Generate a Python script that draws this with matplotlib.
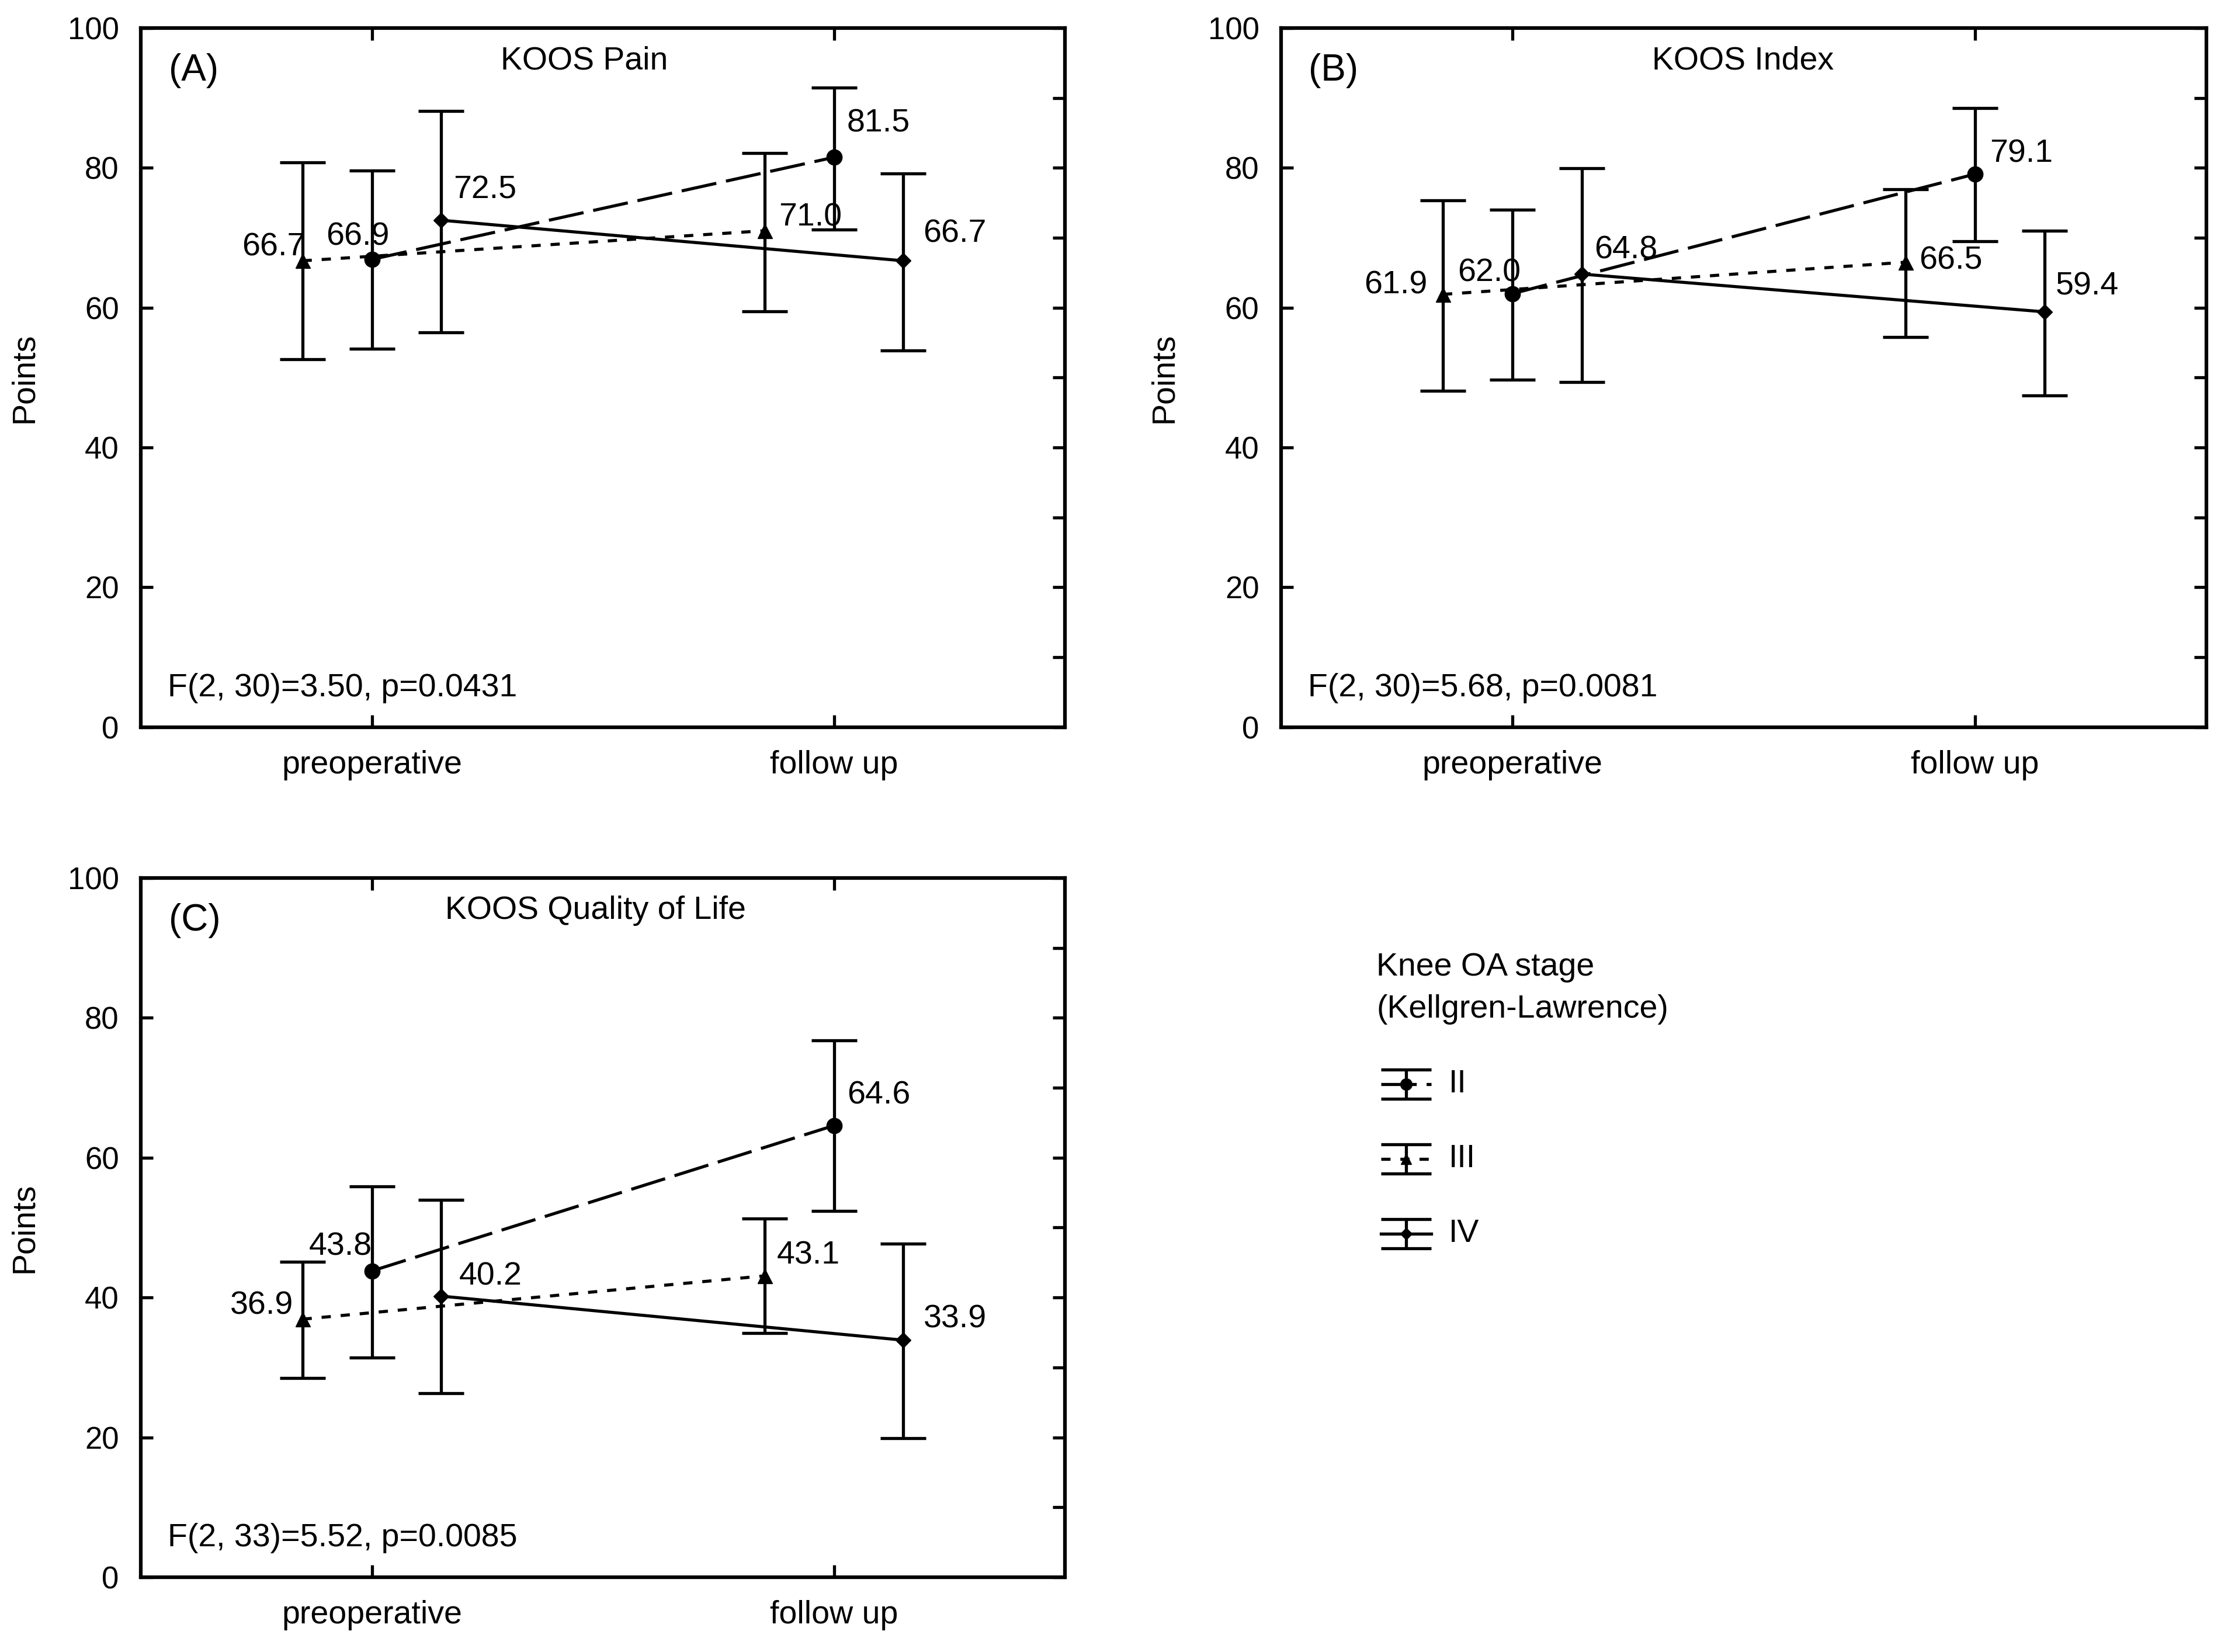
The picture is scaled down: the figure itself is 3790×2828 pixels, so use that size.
import matplotlib.pyplot as plt
from matplotlib.ticker import MultipleLocator

plt.rcParams['font.family'] = ['Liberation Sans', 'DejaVu Sans']

categories = ['preoperative', 'follow up']
stages = ['II', 'III', 'IV']

# means and confidence limits, rows = stage II, III, IV ; cols = preop, follow up
pain_mean = [[66.9, 81.5], [66.7, 71.0], [72.5, 66.7]]
pain_low = [[54.1, 71.2], [52.6, 59.5], [56.5, 53.9]]
pain_high = [[79.6, 91.5], [80.8, 82.1], [88.1, 79.2]]

index_mean = [[62.0, 79.1], [61.9, 66.5], [64.8, 59.4]]
index_low = [[49.7, 69.5], [48.1, 55.8], [49.4, 47.4]]
index_high = [[74.0, 88.5], [75.3, 76.9], [79.9, 71.0]]

qol_mean = [[43.8, 64.6], [36.9, 43.1], [40.2, 33.9]]
qol_low = [[31.4, 52.4], [28.5, 34.9], [26.3, 19.9]]
qol_high = [[55.9, 76.8], [45.1, 51.3], [54.0, 47.7]]

titles = ['KOOS Pain', 'KOOS Index', 'KOOS Quality of Life']
letters = ['(A)', '(B)', '(C)']
stats = ['F(2, 30)=3.50, p=0.0431', 'F(2, 30)=5.68, p=0.0081', 'F(2, 33)=5.52, p=0.0085']

# styling
LW = 3.8
stage_shift = [0.0, -0.15, 0.15]
stage_marker = ['o', '^', 'D']
stage_msize = [19, 18, 13]
stage_dash = [(11.5, 3.2), (3.0, 3.2), None]

# value label placement: (ha, dx in px, dy in data units), order II pre, II fu, III pre, III fu, IV pre, IV fu
label_pos = [
    [('right', 30, 3.2), ('left', 22, 4.8), ('right', 5, 1.9), ('left', 24, 1.9), ('left', 21, 4.3), ('left', 34, 3.8)],
    [('right', 14, 2.9), ('left', 25, 2.9), ('right', -27, 1.3), ('left', 23, 0.2), ('left', 21, 3.4), ('left', 19, 3.6)],
    [('right', 0, 3.4), ('left', 22, 4.3), ('right', -16, 1.9), ('left', 21, 2.9), ('left', 30, 2.8), ('left', 34, 3.0)],
]
title_x = [0.48, 0.499, 0.492]

W, H = 3790, 2828
fig = plt.figure(figsize=(W / 100, H / 100), dpi=100)
boxes = [[0.0636, 0.5598, 0.4175, 0.4233],
         [0.5786, 0.5598, 0.4180, 0.4233],
         [0.0636, 0.0453, 0.4175, 0.4232]]

panels = [(pain_mean, pain_low, pain_high),
          (index_mean, index_low, index_high),
          (qol_mean, qol_low, qol_high)]

PX = 0.72    # points per pixel
UNIT = 8.64  # points per y unit

for p, (means, lows, highs) in enumerate(panels):
    ax = fig.add_axes(boxes[p])
    for s in range(3):
        xs = [0 + stage_shift[s], 1 + stage_shift[s]]
        m = means[s]
        err = [[m[0] - lows[s][0], m[1] - lows[s][1]],
               [highs[s][0] - m[0], highs[s][1] - m[1]]]
        ax.errorbar(xs, m, yerr=err, fmt='none', ecolor='black', elinewidth=LW,
                    capsize=28, capthick=LW, zorder=2)
        line, = ax.plot(xs, m, color='black', lw=LW, marker=stage_marker[s],
                        ms=stage_msize[s], mfc='black', mec='black', mew=1, zorder=3)
        if stage_dash[s] is not None:
            line.set_dashes(stage_dash[s])
        for k in range(2):
            ha, dx, dy = label_pos[p][2 * s + k]
            ax.annotate(f'{m[k]:.1f}', (xs[k], m[k]), xytext=(dx * PX, dy * UNIT),
                        textcoords='offset points', ha=ha, va='center', fontsize=40)

    ax.set_xlim(-0.5, 1.5)
    ax.set_ylim(0, 100)
    ax.set_xticks([0, 1])
    ax.set_xticklabels(categories)
    ax.yaxis.set_major_locator(MultipleLocator(20))
    ax.yaxis.set_minor_locator(MultipleLocator(10))
    ax.tick_params(axis='x', direction='in', top=True, length=15, width=LW,
                   labelsize=40, pad=28)
    ax.tick_params(axis='y', which='major', direction='in', right=True, length=15, width=LW,
                   labelsize=38, pad=27)
    ax.tick_params(axis='y', which='minor', direction='in', left=False, right=True,
                   length=15, width=LW)
    for sp in ax.spines.values():
        sp.set_linewidth(4.5)

    ax.text(-0.126, 0.5, 'Points', transform=ax.transAxes, fontsize=40,
            rotation=90, ha='center', va='center')
    ax.text(0.03, 0.939, letters[p], transform=ax.transAxes, fontsize=46,
            ha='left', va='center')
    ax.text(title_x[p], 0.953, titles[p], transform=ax.transAxes,
            fontsize=40, ha='center', va='center')
    ax.text(0.029, 0.056, stats[p], transform=ax.transAxes,
            fontsize=40, ha='left', va='center')

# legend drawn in pixel coordinates of the figure
lax = fig.add_axes([0, 0, 1, 1], zorder=-1)
lax.set_xlim(0, W)
lax.set_ylim(H, 0)
lax.axis('off')
lax.text(2356, 1656, 'Knee OA stage', fontsize=40, ha='left', va='center')
lax.text(2356, 1728, '(Kellgren-Lawrence)', fontsize=40, ha='left', va='center')
entry_y = [1856, 1984, 2112]
for s in range(3):
    y = entry_y[s]
    lax.errorbar([2407], [y], yerr=[[25], [25]], fmt='none', ecolor='black',
                 elinewidth=LW, capsize=31, capthick=LW)
    ln, = lax.plot([2364, 2450], [y, y], color='black', lw=LW)
    if stage_dash[s] is not None:
        ln.set_dashes(stage_dash[s])
    lax.plot([2407], [y], marker=stage_marker[s], ms=stage_msize[s] * 0.75,
             color='black', ls='none')
    lax.text(2480, y, stages[s], fontsize=40, ha='left', va='center')

fig.savefig('out.png', dpi=100, facecolor='white')
